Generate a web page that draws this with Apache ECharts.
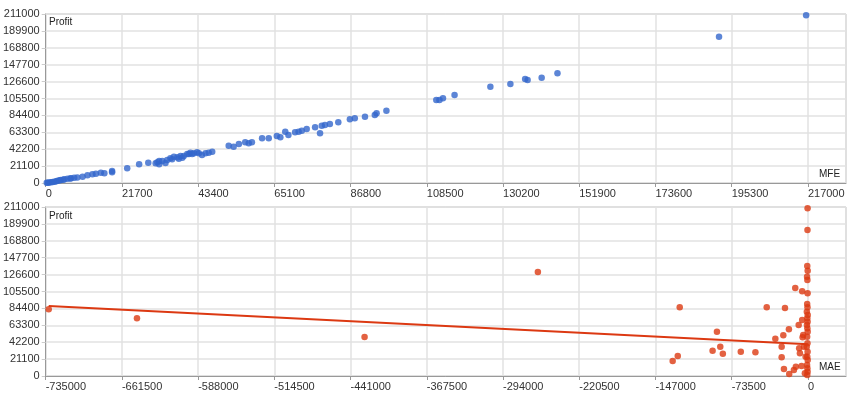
<!DOCTYPE html>
<html>
<head>
<meta charset="utf-8">
<script src="https://cdn.jsdelivr.net/npm/echarts@6/dist/echarts.min.js"></script>
<style>
  html, body { margin: 0; padding: 0; background: #fff; }
  #chart { width: 860px; height: 400px; }
</style>
</head>
<body>
<div id="chart"></div>
<script>
// top chart: MFE vs Profit
var mfe = [300, 600, 1000, 1500, 2000, 2500, 3000, 3400, 4000, 4300, 5000, 5300, 6200, 7000, 7200, 8100, 9000,
  10500, 11900, 13300, 14300, 15700, 16700, 18900, 18900, 23200, 26600, 29200, 31300, 31800, 32300, 32300,
  33200, 34100, 34600, 35500, 36000, 36500, 37500, 37900, 38400, 38900, 39300, 40300, 40800, 41200, 41700,
  42200, 43100, 43600, 44500, 45500, 46400, 47400, 52100, 53500, 55000, 56800, 57800, 58700, 61600, 63500,
  65800, 66800, 68200, 69100, 71000, 72000, 72900, 74300, 76700, 78100, 78600, 79500, 80900, 83300, 86600,
  88000, 90900, 93700, 94200, 97000, 111200, 112100, 113100, 116400, 126600, 132300, 136500, 137200, 141200,
  145700, 191700, 216500];
var mfeProfit = [200, 300, 500, 900, 1200, 1600, 2200, 2900, 3300, 3700, 4100, 4600, 5400, 5600, 5900, 6600, 6800,
  7900, 9600, 10900, 11600, 12900, 12100, 15000, 13400, 18400, 23300, 25300, 24600, 25800, 27500, 23300,
  27500, 25000, 28700, 30800, 29600, 32800, 32100, 30300, 33700, 31600, 33700, 36200, 36200, 37800, 36200,
  37100, 38300, 37100, 35000, 37100, 37800, 39100, 46600, 45300, 48700, 50800, 49600, 50800, 55800, 55800,
  58700, 57100, 64000, 59900, 63300, 64000, 65300, 67400, 69500, 62100, 71500, 72400, 73700, 75800, 79500,
  80800, 82800, 84900, 87000, 90300, 103600, 103600, 105700, 109900, 120200, 123600, 129800, 128600, 131500,
  137000, 182700, 209400];

// bottom chart: MAE vs Profit
var mae = [-732100, -647000, -427500, -260400, -123600, -125500, -130400, -87700, -84500, -91900, -82000,
  -64700, -50600, -39700, -22100, -12200, -5500, -31400, -23700, -18300, -8900, -5500, -25300, -25300,
  -23100, -18000, -13500, -11600, -6100, -8400, -7700, -5100, -4500, -3800, -2900, -2200,
  -300, -400, -600, -200, -800, -500, -300, -700, -400, -1000, -200, -600, -300, -900, -500, -200,
  -700, -400, -1100, -300, -600, -200, -800, -500, -300, -600];
var maeProfit = [83300, 72000, 48700, 129800, 85800, 25000, 18700, 55300, 36600, 31600, 27900,
  30300, 29600, 85800, 84900, 109900, 105700, 46600, 50800, 58300, 63700, 70000, 36600, 23300,
  8700, 2500, 7500, 11600, 12500, 34600, 28300, 48300, 51200, 36600, 3400, 24100,
  209400, 182300, 137300, 131400, 123900, 119900, 103300, 89900, 85800, 80300, 76200, 72000, 67800, 63700,
  59500, 55300, 49100, 40800, 36600, 30300, 24100, 20000, 13700, 9600, 5400, 1200];

// trend line as drawn in the reference (read at both ends)
var trendMae = [-732100, 0];
var trendProfit = [87400, 39600];

var profitTicks = { min: 0, max: 211000, step: 21100 };
var mfeTicks = { min: 0, max: 227850, step: 21700 };
var maeTicks = { min: -735000, max: 36750, step: 73500 };

function pairs(xs, ys) {
  return xs.map(function (x, i) { return [x, ys[i]]; });
}

var labelFont = { fontFamily: 'Liberation Sans, Arial, sans-serif', fontSize: 11, color: '#333' };
function plain(v) { return String(v); }

function xAxisFor(idx, t) {
  return {
    type: 'value', gridIndex: idx, min: t.min, max: t.max, interval: t.step,
    axisLine: { onZero: false, lineStyle: { color: '#999' } },
    axisTick: { length: 4, lineStyle: { color: '#999' } },
    splitLine: { lineStyle: { color: '#e2e2e2', width: 1.5 } },
    axisLabel: Object.assign({ align: 'left', margin: 5, showMaxLabel: false, formatter: plain }, labelFont)
  };
}
function yAxisFor(idx) {
  return {
    type: 'value', gridIndex: idx, min: profitTicks.min, max: profitTicks.max, interval: profitTicks.step,
    axisLine: { show: true, onZero: false, lineStyle: { color: '#999' } },
    axisTick: { show: true, length: 4, lineStyle: { color: '#ccc' } },
    splitLine: { lineStyle: { color: '#e2e2e2', width: 1.5 } },
    axisLabel: Object.assign({ margin: 6, formatter: plain }, labelFont)
  };
}

var chart = echarts.init(document.getElementById('chart'));
var smallText = { fontFamily: 'Liberation Sans, Arial, sans-serif', fontSize: 10, fill: '#222' };

var option = {
  animation: false,
  grid: [
    { left: 43, top: 14, right: 14, height: 169, show: true, borderColor: '#bbb', borderWidth: 1 },
    { left: 43, top: 207, right: 14, height: 169, show: true, borderColor: '#bbb', borderWidth: 1 }
  ],
  xAxis: [xAxisFor(0, mfeTicks), xAxisFor(1, maeTicks)],
  yAxis: [yAxisFor(0), yAxisFor(1)],
  graphic: [
    { type: 'text', left: 49, top: 17, style: Object.assign({ text: 'Profit' }, smallText) },
    { type: 'text', left: 49, top: 211, style: Object.assign({ text: 'Profit' }, smallText) },
    { type: 'text', left: 819, top: 169, style: Object.assign({ text: 'MFE' }, smallText) },
    { type: 'text', left: 819, top: 362, style: Object.assign({ text: 'MAE' }, smallText) }
  ],
  series: [
    {
      type: 'scatter', xAxisIndex: 0, yAxisIndex: 0, symbolSize: 6.5,
      itemStyle: { color: '#3366cc' }, data: pairs(mfe, mfeProfit)
    },
    {
      type: 'line', xAxisIndex: 1, yAxisIndex: 1, showSymbol: false, z: 1,
      lineStyle: { color: '#dc3912', width: 2 }, data: pairs(trendMae, trendProfit)
    },
    {
      type: 'scatter', xAxisIndex: 1, yAxisIndex: 1, symbolSize: 6.5, z: 3,
      itemStyle: { color: '#dc3912' }, data: pairs(mae, maeProfit)
    }
  ]
};

option && chart.setOption(option);
</script>
</body>
</html>
